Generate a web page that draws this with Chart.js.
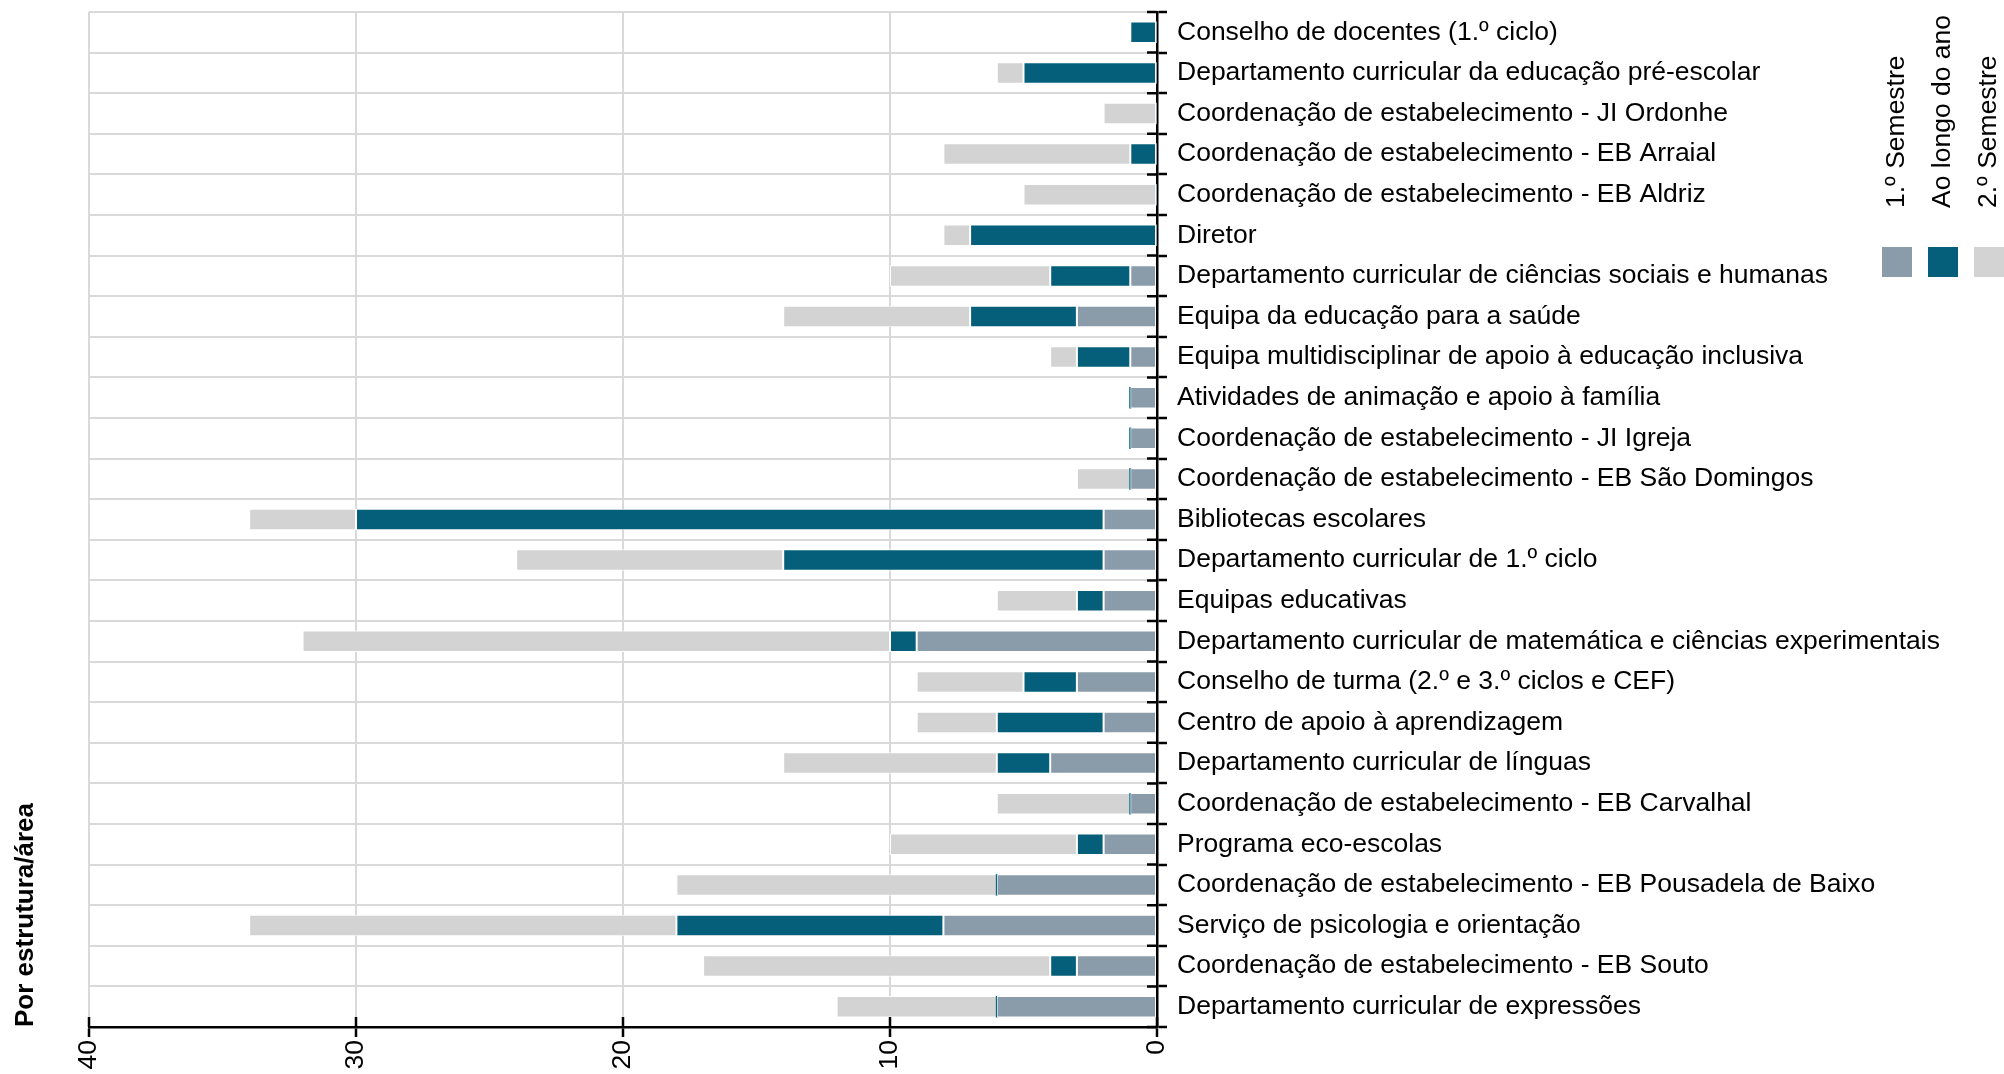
<!DOCTYPE html>
<html>
<head>
<meta charset="utf-8">
<script src="https://cdn.jsdelivr.net/npm/chart.js@4.4.1/dist/chart.umd.min.js"></script>
<style>
html, body { margin: 0; padding: 0; background: #fff; }
canvas { display: block; }
</style>
</head>
<body>
<canvas id="grafico" width="2004" height="1074" style="width:2004px;height:1074px"></canvas>
<script>
const categorias = [
    'Conselho de docentes (1.º ciclo)',
    'Departamento curricular da educação pré-escolar',
    'Coordenação de estabelecimento - JI Ordonhe',
    'Coordenação de estabelecimento - EB Arraial',
    'Coordenação de estabelecimento - EB Aldriz',
    'Diretor',
    'Departamento curricular de ciências sociais e humanas',
    'Equipa da educação para a saúde',
    'Equipa multidisciplinar de apoio à educação inclusiva',
    'Atividades de animação e apoio à família',
    'Coordenação de estabelecimento - JI Igreja',
    'Coordenação de estabelecimento - EB São Domingos',
    'Bibliotecas escolares',
    'Departamento curricular de 1.º ciclo',
    'Equipas educativas',
    'Departamento curricular de matemática e ciências experimentais',
    'Conselho de turma (2.º e 3.º ciclos e CEF)',
    'Centro de apoio à aprendizagem',
    'Departamento curricular de línguas',
    'Coordenação de estabelecimento - EB Carvalhal',
    'Programa eco-escolas',
    'Coordenação de estabelecimento - EB Pousadela de Baixo',
    'Serviço de psicologia e orientação',
    'Coordenação de estabelecimento - EB Souto',
    'Departamento curricular de expressões'
];

const primeiroSemestre = [0, 0, 0, 0, 0, 0, 1, 3, 1, 1, 1, 1, 2, 2, 2, 9, 3, 2, 4, 1, 2, 6, 8, 3, 6];
const aoLongoDoAno     = [1, 5, 0, 1, 0, 7, 3, 4, 2, 0, 0, 0, 28, 12, 1, 1, 2, 4, 2, 0, 1, 0, 10, 1, 0];
const segundoSemestre  = [0, 1, 2, 7, 5, 1, 6, 7, 1, 0, 0, 2, 4, 10, 3, 22, 4, 3, 8, 5, 7, 12, 16, 13, 6];

const nomesSeries = ['1.º Semestre', 'Ao longo do ano', '2.º Semestre'];
const coresSeries = ['#8a9ca9', '#055f7a', '#d3d3d3'];
const ticksX = [0, 10, 20, 30, 40];
const tituloEixo = 'Por estrutura/área';

const fonte = "'Liberation Sans', Arial, sans-serif";
const tamanhoFonte = 26.5;

// marcas de escala que atravessam os eixos + legenda rodada
const extrasGrafico = {
    id: 'extrasGrafico',
    afterDraw(chart) {
        const ctx = chart.ctx;
        const sx = chart.scales.x;
        const sy = chart.scales.y;
        ctx.save();
        ctx.strokeStyle = '#000';
        ctx.lineWidth = 2.5;
        ctx.beginPath();
        const passo = (sy.bottom - sy.top) / categorias.length;
        for (let i = 0; i <= categorias.length; i++) {
            const py = sy.top + i * passo;
            ctx.moveTo(sy.left - 10, py);
            ctx.lineTo(sy.left, py);
        }
        sx.ticks.forEach(t => {
            const px = sx.getPixelForValue(t.value);
            ctx.moveTo(px, sx.top);
            ctx.lineTo(px, sx.top - 10);
        });
        ctx.stroke();

        // legenda
        const lado = 30, intervalo = 46;
        const x0 = chart.width - 122, ySwatch = 247, yTexto = 208;
        ctx.font = tamanhoFonte + 'px ' + fonte;
        nomesSeries.forEach((nome, i) => {
            const xs = x0 + i * intervalo;
            ctx.fillStyle = coresSeries[i];
            ctx.fillRect(xs, ySwatch, lado, lado);
            ctx.save();
            ctx.translate(xs + lado / 2, yTexto);
            ctx.rotate(-Math.PI / 2);
            ctx.fillStyle = '#000';
            ctx.textAlign = 'left';
            ctx.textBaseline = 'middle';
            ctx.fillText(nome, 0, 0);
            ctx.restore();
        });
        ctx.restore();
    }
};

const series = [primeiroSemestre, aoLongoDoAno, segundoSemestre];

new Chart(document.getElementById('grafico').getContext('2d'), {
    type: 'bar',
    data: {
        labels: categorias,
        datasets: series.map((dados, i) => ({
            label: nomesSeries[i],
            data: dados,
            backgroundColor: coresSeries[i],
            borderColor: '#ffffff',
            borderWidth: c => (c.raw === 0 ? 0 : 1),
            borderSkipped: false,
            minBarLength: 2,
            barPercentage: 0.53,
            categoryPercentage: 1
        }))
    },
    options: {
        indexAxis: 'y',
        responsive: false,
        devicePixelRatio: 1,
        animation: false,
        layout: { padding: { top: 12, right: 0, bottom: 0, left: 0 } },
        plugins: {
            legend: { display: false },
            tooltip: { enabled: false }
        },
        scales: {
            x: {
                type: 'linear',
                position: 'bottom',
                reverse: true,
                stacked: true,
                min: 0,
                max: 40,
                afterBuildTicks: s => { s.ticks = ticksX.map(v => ({ value: v })); },
                afterFit: s => { s.height = 47; s.paddingLeft = 0; s.paddingRight = 0; },
                grid: { color: '#d9d9d9', lineWidth: 2, tickColor: '#000', tickLength: 10, tickWidth: 2.5 },
                border: { display: true, color: '#000', width: 2.5 },
                ticks: {
                    color: '#000',
                    font: { family: fonte, size: tamanhoFonte },
                    minRotation: 90,
                    maxRotation: 90,
                    padding: 3
                }
            },
            y: {
                type: 'category',
                position: 'right',
                stacked: true,
                offset: true,
                afterFit: s => { s.width = 2004 - 1157; s.paddingTop = 0; s.paddingBottom = 0; },
                grid: { offset: true, color: '#d9d9d9', lineWidth: 2, tickColor: '#000', tickLength: 10, tickWidth: 2.5 },
                border: { display: true, color: '#000', width: 2.5 },
                ticks: {
                    color: '#000',
                    font: { family: fonte, size: tamanhoFonte },
                    padding: 10,
                    autoSkip: false
                }
            },
            y2: {
                type: 'category',
                position: 'left',
                labels: categorias,
                afterFit: s => { s.width = 89; s.paddingTop = 0; s.paddingBottom = 0; },
                grid: { display: false, drawTicks: false },
                border: { display: false },
                ticks: { display: false },
                title: {
                    display: true,
                    text: tituloEixo,
                    align: 'start',
                    color: '#000',
                    font: { family: fonte, size: 26, weight: 'bold' },
                    padding: { top: 10, bottom: 0 }
                }
            }
        }
    },
    plugins: [extrasGrafico]
});
</script>
</body>
</html>
